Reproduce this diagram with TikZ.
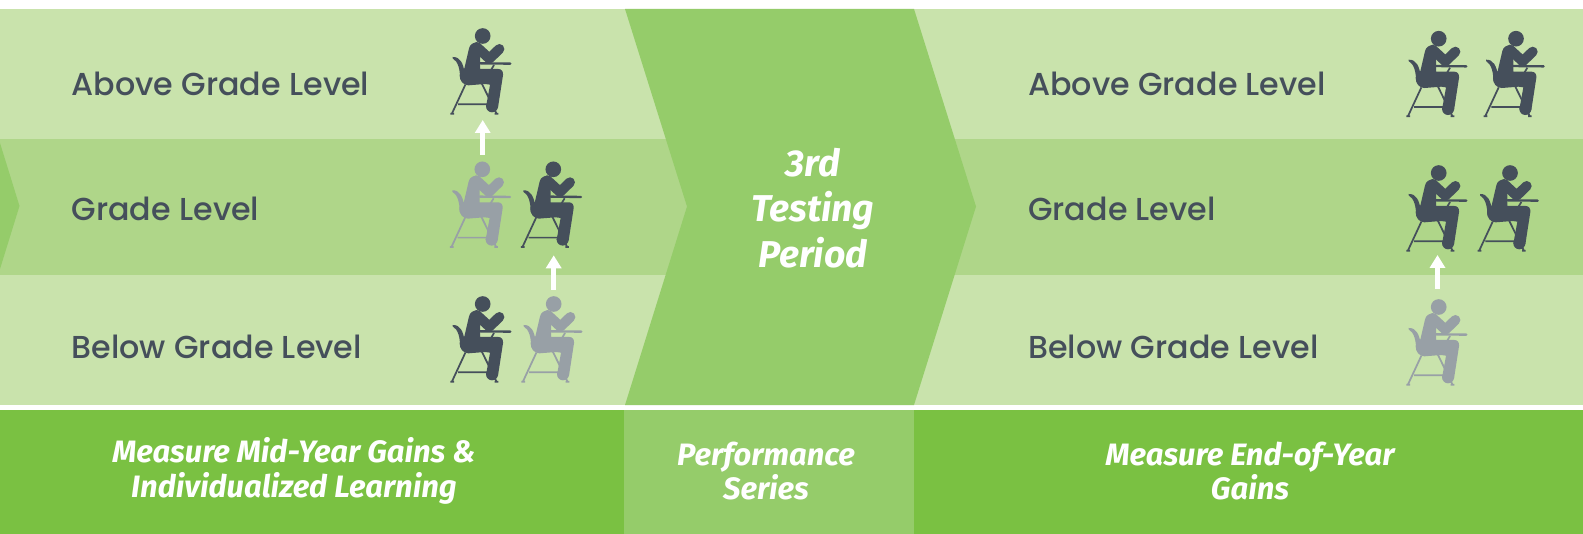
\documentclass[tikz,border=0pt]{standalone}
\usepackage{fontspec}
\setmainfont{Poppins Medium}
\newfontfamily\ital[ItalicFont={Fira Sans Bold Italic}]{Fira Sans}
\usetikzlibrary{arrows.meta}
\definecolor{lightband}{HTML}{C9E3AC}
\definecolor{midband}{HTML}{AFD689}
\definecolor{chev}{HTML}{95CC6A}
\definecolor{foot}{HTML}{7AC142}
\definecolor{ink}{HTML}{454F5B}
\definecolor{fade}{HTML}{98A0A6}
\tikzset{
  band label/.style={anchor=west,inner sep=0pt,text=ink,font=\fontsize{23.8}{28}\selectfont},
  foot label/.style={align=center,text=white,font=\ital\itshape\fontsize{23.2}{25.7}\selectfont},
  up arrow/.style={white,line width=3.75pt,-{Triangle[width=11.25pt,length=9.75pt]}},
  pics/student/.style={code={
    \begin{scope}[scale=0.3333,shift={(-158,-78)},fill=#1,draw=#1]
      \fill (158,78) circle (23.5);
      % torso, seat, thigh and lower leg
      \fill (117,115) .. controls (120,102) and (130,98) .. (140,98) -- (150,99) -- (150,177)
        -- (205,177) .. controls (215,177) and (220,185) .. (219,195) -- (204,292) -- (168,290)
        -- (180,224) -- (165,222) -- (115,226) .. controls (100,226) and (88,212) .. (89,195)
        .. controls (90,185) and (100,180) .. (103,175) -- cycle;
      \fill (186,289) circle (18);
      % upper arm and forearm
      \draw[line width=7.5pt,line cap=round,line join=round] (140,111) -- (178,146) -- (208,117);
      % chair back
      \fill (68,141) .. controls (90,140) and (100,160) .. (104,190) -- (90,205)
        .. controls (90,180) and (85,155) .. (68,145) -- cycle;
      % desk top
      \draw[line width=1.75pt,line cap=round] (150,160) -- (241,161);
      % chair and desk legs
      \draw[line width=1.3pt] (106,224) -- (66,310) (155,220) -- (199,310) (84,283) -- (172,283)
        (192,165) -- (183,180) (165,212) -- (182,216) (61,311) -- (72,311) (194,311) -- (205,311);
    \end{scope}}}
}
\begin{document}
\begin{tikzpicture}[x=0.75pt,y=-0.75pt]
\useasboundingbox (0,0) rectangle (1583,534);
\fill[white] (0,0) rectangle (1583,534);
\fill[lightband] (0,9) rectangle (1583,405);
\fill[midband] (0,139) rectangle (1583,275);
\fill[chev] (0,143) -- (19.5,206) -- (0,269) -- cycle;
\fill[chev] (625,9) -- (914,9) -- (976,206.5) -- (914,405) -- (625,405) -- (687,206.5) -- cycle;
\fill[foot] (0,410) rectangle (1583,534);
\fill[chev] (624,410) rectangle (914,534);

\node[band label] (a1) at (71.5,84) {Above Grade Level};
\node[band label] (g1) at (71.5,209) {Grade Level};
\node[band label] (b1) at (71.5,347) {Below Grade Level};
\node[band label] (a2) at (1028,84) {Above Grade Level};
\node[band label] (g2) at (1028,209) {Grade Level};
\node[band label] (b2) at (1028,347) {Below Grade Level};

\node[foot label,font=\ital\itshape\fontsize{28}{34}\selectfont] (mid) at (813,208) {3rd\\Testing\\Period};
\node[foot label] (f1) at (294,471) {Measure Mid-Year Gains \&\\Individualized Learning};
\node[foot label] (f2) at (766,471) {Performance\\Series};
\node[foot label] (f3) at (1250,471) {Measure End-of-Year\\Gains};

\pic at (482.7,36) {student=ink};
\pic at (482.3,169.3) {student=fade};
\pic at (553.3,169.3) {student=ink};
\pic at (482.7,304) {student=ink};
\pic at (553.7,304) {student=fade};
\pic at (1438.7,38.7) {student=ink};
\pic at (1516,38.7) {student=ink};
\pic at (1438.7,173) {student=ink};
\pic at (1510,173) {student=ink};
\pic at (1438.7,307) {student=fade};

\coordinate (u1a) at (482.7,155); \coordinate (u1b) at (482.7,120);
\coordinate (u2a) at (553.7,290); \coordinate (u2b) at (553.7,255.3);
\coordinate (u3a) at (1437.5,289); \coordinate (u3b) at (1437.5,255);
\draw[up arrow] (u1a) -- (u1b);
\draw[up arrow] (u2a) -- (u2b);
\draw[up arrow] (u3a) -- (u3b);
\end{tikzpicture}
\end{document}
